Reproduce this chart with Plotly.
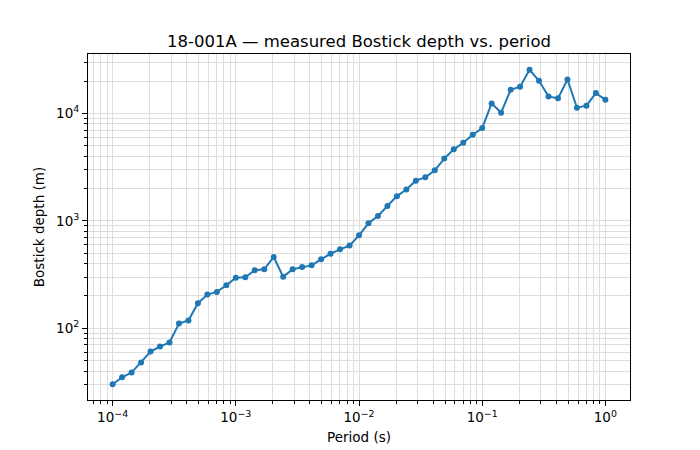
import numpy as np
import plotly.graph_objects as go

# Periods: 13 points per decade from 1e-4 to 1 s
period_s = [10 ** (-4 + k / 13) for k in range(53)]
depth_m = [30.1, 35.0, 38.7, 48.0, 60.7, 67.6, 73.6, 110.6, 118, 171,
           206, 218, 251, 296, 298, 347, 354, 461, 301, 354,
           372, 385, 438, 495, 543, 588, 733, 948, 1109, 1374,
           1698, 1955, 2365, 2540, 2952, 3794, 4627, 5337, 6336, 7298,
           12390, 10160, 16600, 17700, 25500, 20140, 14390, 13800, 20700, 11300,
           11800, 15450, 13400]

x_exps = [-4, -3, -2, -1, 0]
y_exps = [2, 3, 4]

title = "18-001A \u2014 measured Bostick depth vs. period"
xlabel = "Period (s)"
ylabel = "Bostick depth (m)"


def pow_label(e):
    s = str(e).replace("-", "\u2212")
    return "10<sup>" + s + "</sup>"


def minor_vals(lo, hi):
    vals = []
    for d in range(int(np.floor(lo)) - 1, int(np.ceil(hi)) + 1):
        for m in range(2, 10):
            v = m * 10.0 ** d
            if lo <= np.log10(v) <= hi:
                vals.append(v)
    return vals


lx = np.log10(period_s)
ly = np.log10(depth_m)
xr = [lx.min() - 0.05 * (lx.max() - lx.min()), lx.max() + 0.05 * (lx.max() - lx.min())]
yr = [ly.min() - 0.05 * (ly.max() - ly.min()), ly.max() + 0.05 * (ly.max() - ly.min())]

font = "DejaVu Sans, sans-serif"
grid = "#dedede"
fig = go.Figure()
fig.add_trace(go.Scatter(
    x=period_s, y=depth_m, mode="lines+markers",
    line=dict(color="#1f77b4", width=2),
    marker=dict(color="#1f77b4", size=6),
    showlegend=False,
))

axis_common = dict(
    type="log", showline=True, linecolor="black", linewidth=1, mirror=True,
    ticks="outside", ticklen=5, tickwidth=1, tickcolor="black",
    showgrid=True, gridcolor=grid, gridwidth=1,
    zeroline=False, automargin=False, tickmode="array",
    tickfont=dict(family=font, size=13.5, color="black"),
)

fig.update_xaxes(**axis_common, range=xr,
                 tickvals=[10.0 ** e for e in x_exps],
                 ticktext=[pow_label(e) for e in x_exps],
                 minor=dict(ticks="outside", ticklen=3, tickcolor="black", tickmode="array",
                            tickvals=minor_vals(*xr), showgrid=True, gridcolor=grid, gridwidth=1),
                 title=dict(text=xlabel, font=dict(family=font, size=13.5, color="black"), standoff=8))
fig.update_yaxes(**axis_common, range=yr,
                 tickvals=[10.0 ** e for e in y_exps],
                 ticktext=[pow_label(e) for e in y_exps],
                 minor=dict(ticks="outside", ticklen=3, tickcolor="black", tickmode="array",
                            tickvals=minor_vals(*yr), showgrid=True, gridcolor=grid, gridwidth=1),
                 title=dict(text=ylabel, font=dict(family=font, size=13.5, color="black"), standoff=8))

fig.update_layout(
    width=700, height=450,
    margin=dict(l=88, r=70, t=54, b=50),
    paper_bgcolor="white", plot_bgcolor="white",
    font=dict(family=font, color="black"),
    title=dict(text=title, x=0.5, xref="paper", xanchor="center",
               y=1, yref="paper", yanchor="bottom", pad=dict(b=7),
               font=dict(family=font, size=16.5, color="black")),
)

fig.write_html("out.html")
